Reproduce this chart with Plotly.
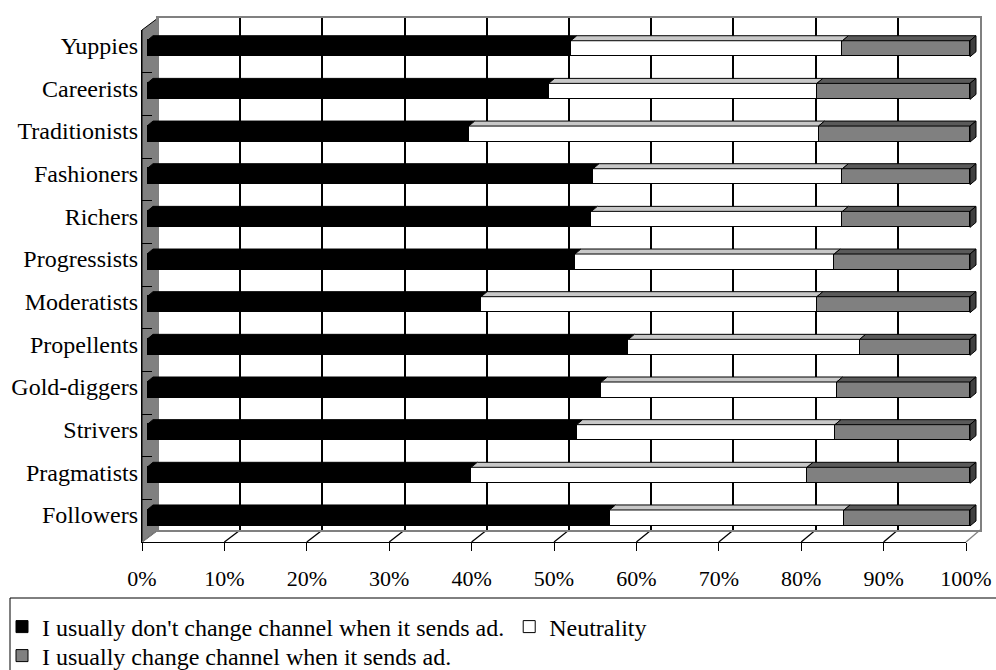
import plotly.graph_objects as go

# ---------------- data (bottom -> top) ----------------
categories = ["Followers", "Pragmatists", "Strivers", "Gold-diggers", "Propellents",
              "Moderatists", "Progressists", "Richers", "Fashioners", "Traditionists",
              "Careerists", "Yuppies"]
dont_change = [56.2, 39.4, 52.2, 55.2, 58.5, 40.6, 52.0, 54.0, 54.2, 39.1, 48.8, 51.5]
neutrality = [28.5, 40.8, 31.4, 28.6, 28.1, 40.8, 31.5, 30.5, 30.3, 42.5, 32.6, 33.0]
change = [15.3, 19.8, 16.4, 16.2, 13.4, 18.6, 16.5, 15.5, 15.5, 18.4, 18.6, 15.5]
series_names = ["I usually don't change channel when it sends ad.", "Neutrality",
                "I usually change channel when it sends ad."]
tick_values = list(range(0, 101, 10))
tick_labels = [f"{v}%" for v in tick_values]

# ---------------- geometry helpers ----------------
W, H = 996, 670
PX_L, PX_R, PX_T, PX_B = 142, 986, 18, 542
FRONT_L, FRONT_R = 142, 966      # front floor edge (0% .. 100%)
BACK_L, BACK_R = 158, 980        # back wall (0% .. 100%)
BACK_B = 530


def fx(px):
    return (px - PX_L) / (PX_R - PX_L)


def fy(py):
    return (PX_B - py) / (PX_B - PX_T)


FONT = "Liberation Serif"
BAR_W = 0.375
PX_PER_UNIT = 8.23
X2_MAX = 101.5
DX = 6 / PX_PER_UNIT          # depth offset in data units (x)
DY = 5 / 42.66                # depth offset in category units (y)

ypos = list(range(len(categories)))
colors = ["#000000", "#ffffff", "#808080"]
top_colors = ["#000000", "#c8c8c8", "#5a5a5a"]
legend_ids = ["legend", "legend", "legend2"]

fig = go.Figure()
# empty traces so that the back-wall (x/y) and front-axis (x3/y3) subplots are drawn
for xa, ya in (("x", "y"), ("x3", "y3")):
    fig.add_trace(go.Scatter(x=[None], y=[None], xaxis=xa, yaxis=ya, mode="markers",
                             showlegend=False, hoverinfo="skip"))
series = [dont_change, neutrality, change]
for name, vals, col, lg in zip(series_names, series, colors, legend_ids):
    fig.add_trace(go.Bar(
        y=ypos, x=vals, name=name, orientation="h", width=BAR_W,
        marker=dict(color=col, line=dict(color="#000000", width=1)),
        xaxis="x2", yaxis="y2", hoverinfo="skip", legend=lg))

shapes = []
# left side wall (under everything)
shapes.append(dict(type="path", xref="paper", yref="paper", xsizemode="pixel", ysizemode="pixel",
                   xanchor=fx(FRONT_L), yanchor=fy(PX_B),
                   path="M0,0 L0,512 L16,524 L16,12 Z",
                   fillcolor="#808080", line=dict(color="#000000", width=1), layer="below"))
# floor lines
for v in tick_values:
    xf = FRONT_L + (FRONT_R - FRONT_L) * v / 100
    xb = BACK_L + (BACK_R - BACK_L) * v / 100
    shapes.append(dict(type="line", xref="paper", yref="paper",
                       x0=fx(xf), y0=fy(PX_B), x1=fx(xb), y1=fy(BACK_B),
                       line=dict(color="#808080" if v in (0, 100) else "#000000", width=1.3),
                       layer="below"))
# 3D faces of bars
for i in ypos:
    starts = [0, dont_change[i], dont_change[i] + neutrality[i]]
    ends = [dont_change[i], dont_change[i] + neutrality[i],
            dont_change[i] + neutrality[i] + change[i]]
    yt = i + BAR_W / 2
    yb = i - BAR_W / 2
    for k in range(3):
        x0, x1 = starts[k], ends[k]
        shapes.append(dict(type="path", xref="x2", yref="y2",
                           path=f"M{x0},{yt} L{x1},{yt} L{x1 + DX},{yt + DY} L{x0 + DX},{yt + DY} Z",
                           fillcolor=top_colors[k], line=dict(color="#000000", width=1),
                           layer="above"))
    xe = ends[2]
    shapes.append(dict(type="path", xref="x2", yref="y2",
                       path=f"M{xe},{yb} L{xe},{yt} L{xe + DX},{yt + DY} L{xe + DX},{yb + DY} Z",
                       fillcolor="#404040", line=dict(color="#000000", width=1), layer="above"))
# legend frame
shapes.append(dict(type="rect", xref="paper", yref="paper",
                   x0=fx(10), x1=fx(1002), y0=fy(690), y1=fy(598),
                   line=dict(color="#000000", width=1), fillcolor="rgba(0,0,0,0)"))

legend_common = dict(orientation="h", xref="container", yref="container",
                     xanchor="left", yanchor="middle", traceorder="normal",
                     font=dict(family=FONT, size=24, color="#000000"),
                     bgcolor="rgba(0,0,0,0)", itemwidth=30, borderwidth=0)

fig.update_layout(
    template="none",
    width=W, height=H,
    margin=dict(l=PX_L, r=W - PX_R, t=PX_T, b=H - PX_B, pad=0),
    paper_bgcolor="white", plot_bgcolor="rgba(0,0,0,0)",
    barmode="stack", bargap=0,
    font=dict(family=FONT, size=22, color="#000000"),
    shapes=shapes,
    showlegend=True,
    legend=dict(x=2 / W, y=1 - 627 / H, **legend_common),
    legend2=dict(x=2 / W, y=1 - 656 / H, **legend_common),
    # back wall grid
    xaxis=dict(domain=[fx(BACK_L), fx(BACK_R)], range=[0, 100], anchor="y", automargin=False,
               tickvals=tick_values[1:-1], showgrid=True, gridcolor="#000000", gridwidth=1.5,
               showticklabels=False, ticks="", zeroline=False,
               showline=True, linecolor="#808080", linewidth=1.5, mirror=True),
    yaxis=dict(domain=[fy(BACK_B), fy(PX_T)], range=[0, 1], anchor="x", automargin=False,
               showgrid=False, showticklabels=False, ticks="", zeroline=False,
               showline=True, linecolor="#808080", linewidth=1.5, mirror=True),
    # bars
    xaxis2=dict(domain=[fx(147), fx(147 + X2_MAX * PX_PER_UNIT)], range=[0, X2_MAX],
                anchor="y2", automargin=False, showgrid=False, showticklabels=False, ticks="",
                zeroline=False, showline=False),
    yaxis2=dict(domain=[fy(539.3), fy(27.4)], range=[-0.5, len(categories) - 0.5],
                anchor="x2", automargin=False, tickvals=ypos, ticktext=categories,
                showgrid=False, ticks="", zeroline=False, showline=False,
                ticklabelstandoff=8, ticklabelshift=-3,
                tickfont=dict(family=FONT, size=24, color="#000000")),
    # front axis / floor edge
    xaxis3=dict(domain=[fx(FRONT_L), fx(FRONT_R)], range=[0, 100], anchor="y3",
                automargin=False, tickvals=tick_values, ticktext=tick_labels,
                ticks="outside", ticklen=8, tickcolor="#000000", tickwidth=1.3, showline=True,
                linecolor="#000000", linewidth=1.3, showgrid=False, zeroline=False,
                ticklabelstandoff=8, tickfont=dict(family=FONT, size=22, color="#000000")),
    yaxis3=dict(domain=[fy(PX_B), fy(30)], range=[0, len(categories)], anchor="x3",
                automargin=False, tickvals=list(range(1, len(categories))), ticks="inside",
                ticklen=10, tickcolor="#000000", tickwidth=1.3, showticklabels=False,
                showgrid=False, zeroline=False, showline=True, linecolor="#000000",
                linewidth=1.3),
)

fig.write_html("out.html")
